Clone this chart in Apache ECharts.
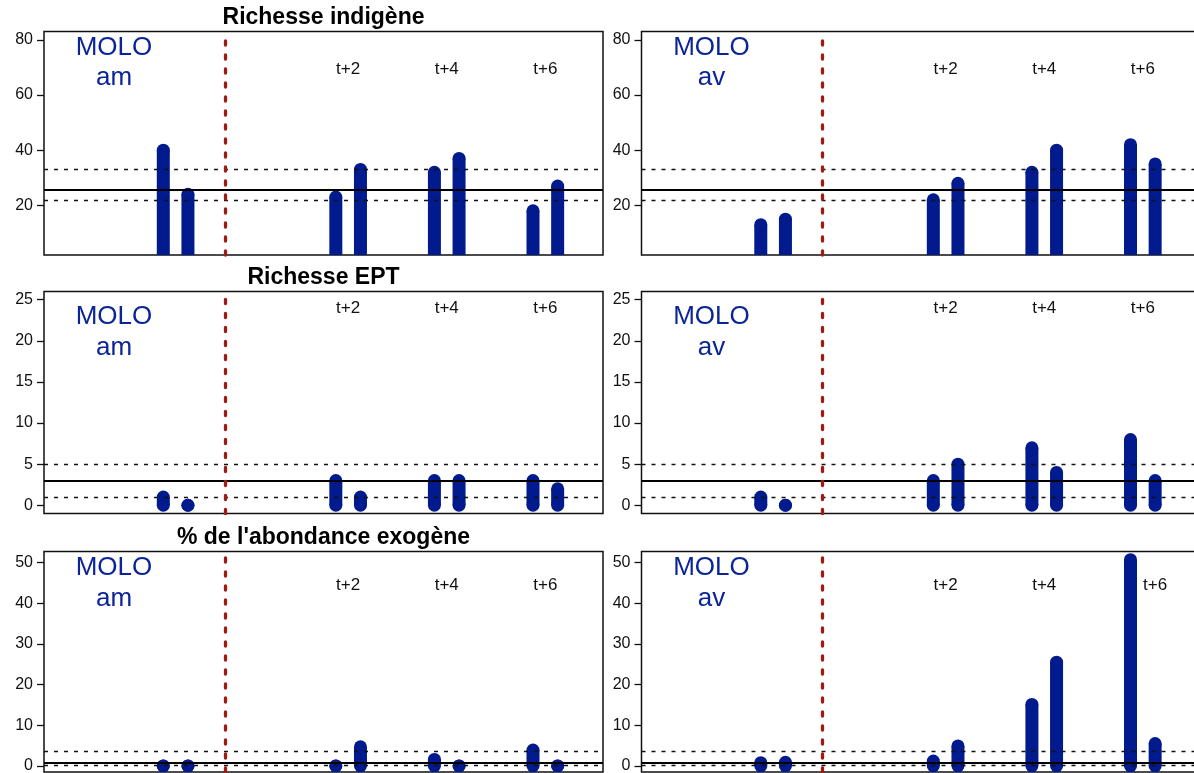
<!DOCTYPE html>
<html><head><meta charset="utf-8">
<script src="https://cdn.jsdelivr.net/npm/echarts@6/dist/echarts.min.js"></script>
<style>html,body{margin:0;padding:0;background:#fff}#c{width:1194px;height:773px}</style>
</head><body><div id="c"></div>
<script>
// ---------- data ----------
const xPositions = [5, 6, 12, 13, 16, 17, 20, 21];
const xLimits = [1, 22];
const beforeAfterX = 7.5;
const periodLabels = ['t+2', 't+4', 't+6'];
const periodLabelX = [12.5, 16.5, 20.5];
const periodLabelXExoAv = [12.5, 16.5, 21];
const panelTitles = ['Richesse indigène', 'Richesse EPT', "% de l'abondance exogène"];
const siteName = 'MOLO';
const stations = ['am', 'av'];

const indigAm = [40, 24, 23, 33, 32, 37, 18, 27];
const indigAv = [13, 15, 22, 28, 32, 40, 42, 35];
const eptAm = [1, 0, 3, 1, 3, 3, 3, 2];
const eptAv = [1, 0, 3, 5, 7, 4, 8, 3];
const exoAm = [0, 0, 0, 4.7, 1.6, 0, 3.9, 0];
const exoAv = [0.8, 0.9, 1.2, 4.9, 15.1, 25.5, 50.7, 5.5];

const refIndig = [22, 25.5, 33];   // lower, reference, upper
const refEpt = [1, 3, 5];
const refExo = [0.1, 0.8, 3.5];

const yRangeIndig = [2, 83];
const yRangeEpt = [-1, 26];
const yRangeExo = [-1.5, 52.7];

const ticksIndig = [20, 40, 60, 80];
const ticksEpt = [0, 5, 10, 15, 20, 25];
const ticksExo = [0, 10, 20, 30, 40, 50];

// ---------- styling / layout ----------
const BAR_COLOR = '#011a8d';
const TEXT_BLUE = '#0b2597';
const RED = '#9e1a14';
const BAR_W = 13;
const FONT = '"Liberation Sans", Arial, sans-serif';
const colLeft = [44, 641.5];
const colWidth = 559;
const rowTop = [31.5, 291.5, 551.5];
const rowHeight = [223.5, 222, 220.5];
const molaY = [47.7, 317, 568];
const stationY = [78, 347.5, 598.5];
const periodY = [69, 308, 585];
const titleY = [18, 278, 538];

function expand(lim) { const d = lim[1] - lim[0]; return [lim[0] - 0.04 * d, lim[1] + 0.04 * d]; }
const xr = expand(xLimits);

const rows = [
  { vals: [indigAm, indigAv], ref: refIndig, range: yRangeIndig, ticks: ticksIndig },
  { vals: [eptAm, eptAv], ref: refEpt, range: yRangeEpt, ticks: ticksEpt },
  { vals: [exoAm, exoAv], ref: refExo, range: yRangeExo, ticks: ticksExo }
];

function barRender(params, api) {
  const x = api.value(0), v = api.value(1);
  const cs = params.coordSys;
  const top = api.coord([x, v]);
  const base = api.coord([x, 0]);
  const bottomPx = cs.y + cs.height;
  const r = BAR_W / 2;
  const y0 = Math.min(base[1], bottomPx);
  const children = [
    { type: 'rect', shape: { x: top[0] - r, y: top[1], width: BAR_W, height: Math.max(0, y0 - top[1]) }, style: { fill: BAR_COLOR } },
    { type: 'circle', shape: { cx: top[0], cy: top[1], r: r }, style: { fill: BAR_COLOR } }
  ];
  if (base[1] <= bottomPx) children.push({ type: 'circle', shape: { cx: base[0], cy: base[1], r: r }, style: { fill: BAR_COLOR } });
  return { type: 'group', children: children };
}

const grids = [], xAxes = [], yAxes = [], series = [];
rows.forEach((row, ri) => {
  const yr = row.range;
  [0, 1].forEach(ci => {
    const gi = ri * 2 + ci;
    grids.push({ left: colLeft[ci], top: rowTop[ri], width: colWidth, height: rowHeight[ri], show: true,
      borderColor: '#111', borderWidth: 1.5, backgroundColor: 'transparent', containLabel: false,
      outerBoundsMode: 'none' });
    xAxes.push({ type: 'value', gridIndex: gi, min: xr[0], max: xr[1], show: false });
    yAxes.push({ type: 'value', gridIndex: gi, min: yr[0], max: yr[1],
      axisLine: { show: false }, splitLine: { show: false },
      axisTick: { show: true, length: 7, inside: false, lineStyle: { color: '#111', width: 1.3 }, customValues: row.ticks },
      axisLabel: { show: true, margin: 11, color: '#111', fontSize: 16, fontFamily: FONT, customValues: row.ticks }
    });
    const ref = row.ref;
    series.push({
      type: 'custom', xAxisIndex: gi, yAxisIndex: gi, clip: true, silent: true,
      data: xPositions.map((x, i) => [x, row.vals[ci][i]]),
      renderItem: barRender,
      markLine: {
        silent: true, symbol: 'none', animation: false, label: { show: false },
        data: [
          { yAxis: ref[1], lineStyle: { color: '#000', width: 2, type: 'solid' } },
          { yAxis: ref[0], lineStyle: { color: '#111', width: 1.4, type: [4, 6] } },
          { yAxis: ref[2], lineStyle: { color: '#111', width: 1.4, type: [4, 6] } },
          { xAxis: beforeAfterX, lineStyle: { color: RED, width: 3.3, type: [4, 10], cap: 'round' } }
        ]
      }
    });
  });
});

const chart = echarts.init(document.getElementById('c'), null, { renderer: 'canvas' });
chart.setOption({ animation: false, grid: grids, xAxis: xAxes, yAxis: yAxes, series: series });

// ---------- texts ----------
const graphics = [];
panelTitles.forEach((t, ri) => {
  graphics.push({ type: 'text', x: colLeft[0] + colWidth / 2, y: titleY[ri], silent: true,
    style: { text: t, fill: '#000', font: 'bold 23px ' + FONT, textAlign: 'center', textVerticalAlign: 'middle' } });
});
rows.forEach((row, ri) => {
  [0, 1].forEach(ci => {
    const gi = ri * 2 + ci;
    const siteX = chart.convertToPixel({ gridIndex: gi }, [3, 0])[0];
    graphics.push({ type: 'text', x: siteX, y: molaY[ri], silent: true,
      style: { text: siteName, fill: TEXT_BLUE, font: '26px ' + FONT, textAlign: 'center', textVerticalAlign: 'middle' } });
    graphics.push({ type: 'text', x: siteX, y: stationY[ri], silent: true,
      style: { text: stations[ci], fill: TEXT_BLUE, font: '26px ' + FONT, textAlign: 'center', textVerticalAlign: 'middle' } });
    const lx = (ri === 2 && ci === 1) ? periodLabelXExoAv : periodLabelX;
    periodLabels.forEach((p, k) => {
      const px = chart.convertToPixel({ gridIndex: gi }, [lx[k], 0])[0];
      graphics.push({ type: 'text', x: px, y: periodY[ri], silent: true,
        style: { text: p, fill: '#111', font: '17px ' + FONT, textAlign: 'center', textVerticalAlign: 'middle' } });
    });
  });
});
chart.setOption({ graphic: graphics });
</script>
</body></html>
